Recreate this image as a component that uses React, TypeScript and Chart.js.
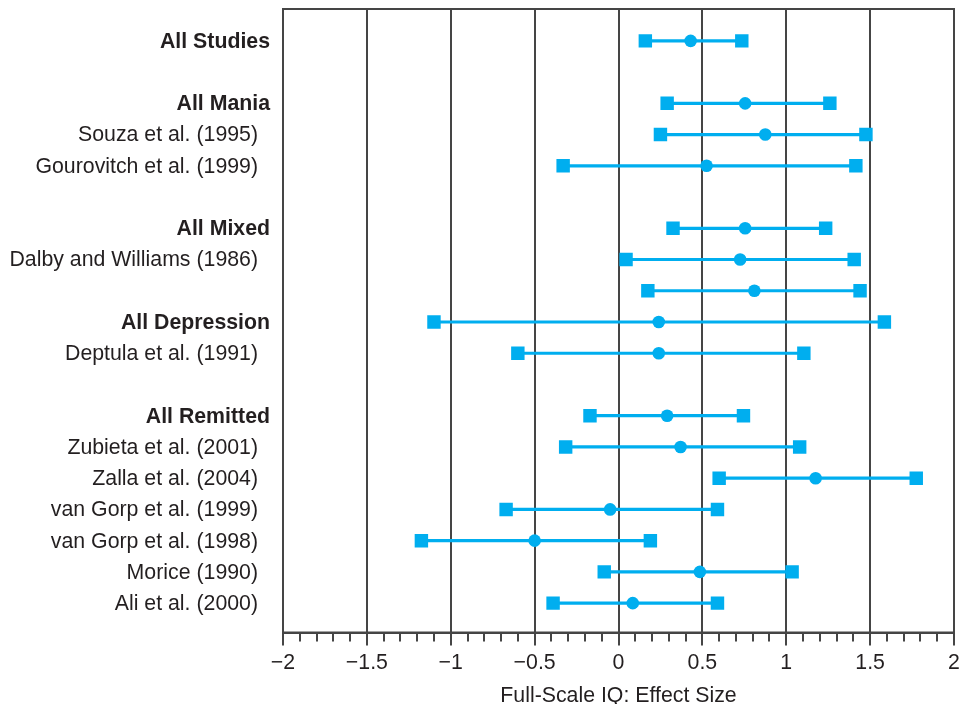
import React, { useEffect, useRef } from "react";
import { Chart, registerables } from "chart.js";

Chart.register(...registerables);

const rowLabels: string[] = [
  "All Studies",
  "",
  "All Mania",
  "Souza et al. (1995)",
  "Gourovitch et al. (1999)",
  "",
  "All Mixed",
  "Dalby and Williams (1986)",
  "",
  "All Depression",
  "Deptula et al. (1991)",
  "",
  "All Remitted",
  "Zubieta et al. (2001)",
  "Zalla et al. (2004)",
  "van Gorp et al. (1999)",
  "van Gorp et al. (1998)",
  "Morice (1990)",
  "Ali et al. (2000)",
];

const boldRows: boolean[] = [
  true, false, true, false, false, false, true, false, false, true,
  false, false, true, false, false, false, false, false, false,
];

const lowValues: (number | null)[] = [
  0.16, null, 0.29, 0.25, -0.33, null, 0.325, 0.045, 0.175, -1.1,
  -0.6, null, -0.17, -0.315, 0.6, -0.67, -1.175, -0.085, -0.39,
];

const effectValues: (number | null)[] = [
  0.43, null, 0.755, 0.875, 0.525, null, 0.755, 0.725, 0.81, 0.24,
  0.24, null, 0.29, 0.37, 1.175, -0.05, -0.5, 0.485, 0.085,
];

const highValues: (number | null)[] = [
  0.735, null, 1.26, 1.475, 1.415, null, 1.235, 1.405, 1.44, 1.585,
  1.105, null, 0.745, 1.08, 1.775, 0.59, 0.19, 1.035, 0.59,
];

const xTickValues: number[] = [-2, -1.5, -1, -0.5, 0, 0.5, 1, 1.5, 2];

const COLOR = "#00aeef";
const INK = "#231f20";
const LINE = "#454545";
const FONT = '"Liberation Sans", Arial, Helvetica, sans-serif';
const FSIZE = 21.3;

const fmt = (v: number) => {
  const s = String(Math.abs(v));
  return v < 0 ? "\u2212" + s : s;
};

const extrasPlugin = {
  id: "extras",
  afterDraw(chart: any) {
    const { ctx, chartArea, scales } = chart;
    const x = scales.x;
    const y = scales.y;
    ctx.save();
    ctx.strokeStyle = LINE;
    ctx.lineWidth = 2;
    for (let k = -20; k <= 20; k++) {
      if (k % 5 === 0) continue;
      const px = Math.round(x.getPixelForValue(k / 10));
      ctx.beginPath();
      ctx.moveTo(px, chartArea.bottom);
      ctx.lineTo(px, chartArea.bottom + 9);
      ctx.stroke();
    }
    ctx.strokeRect(
      chartArea.left,
      chartArea.top,
      chartArea.right - chartArea.left,
      chartArea.bottom - chartArea.top
    );
    ctx.fillStyle = INK;
    ctx.textAlign = "right";
    ctx.textBaseline = "middle";
    rowLabels.forEach((lab, i) => {
      if (!lab) return;
      const bold = boldRows[i];
      ctx.font = (bold ? "bold " : "") + FSIZE + "px " + FONT;
      ctx.fillText(lab, bold ? 270 : 258, y.getPixelForValue(i) + 1);
    });
    ctx.restore();
  },
};

export default function App() {
  const canvasRef = useRef<HTMLCanvasElement | null>(null);

  useEffect(() => {
    document.body.style.margin = "0";
    const canvas = canvasRef.current;
    if (!canvas) return;

    const datasets = rowLabels
      .map((_, i) => i)
      .filter((i) => lowValues[i] !== null)
      .map((i) => ({
        data: [
          { x: lowValues[i] as number, y: i },
          { x: effectValues[i] as number, y: i },
          { x: highValues[i] as number, y: i },
        ],
        showLine: true,
        borderColor: COLOR,
        backgroundColor: COLOR,
        borderWidth: 3.2,
        pointStyle: ["rect", "circle", "rect"],
        pointRadius: [9.5, 6.3, 9.5],
        pointBorderWidth: 0,
        pointBackgroundColor: COLOR,
      }));

    const chart = new Chart(canvas, {
      type: "scatter",
      data: { datasets: datasets as any },
      options: {
        animation: false,
        responsive: false,
        devicePixelRatio: 1,
        layout: {
          autoPadding: false,
          padding: { left: 283, right: 5, top: 9, bottom: 0 },
        },
        plugins: { legend: { display: false }, tooltip: { enabled: false } },
        scales: {
          x: {
            type: "linear",
            position: "bottom",
            min: -2,
            max: 2,
            afterBuildTicks: (s: any) => {
              s.ticks = xTickValues.map((v) => ({ value: v }));
            },
            afterFit: (s: any) => {
              s.height = 71.5;
              s.paddingLeft = 0;
              s.paddingRight = 0;
            },
            ticks: {
              callback: (v: any) => fmt(Number(v)),
              font: { family: FONT, size: FSIZE },
              color: INK,
              padding: 5,
              maxRotation: 0,
              autoSkip: false,
            },
            grid: {
              color: LINE,
              lineWidth: 2,
              tickLength: 13,
              tickColor: LINE,
              drawOnChartArea: true,
            },
            border: { display: true, color: LINE, width: 2 },
            title: {
              display: true,
              text: "Full-Scale IQ: Effect Size",
              font: { family: FONT, size: FSIZE, lineHeight: 1 },
              color: INK,
              padding: { top: 0, bottom: -3 },
            },
          },
          y: {
            type: "linear",
            display: false,
            reverse: true,
            min: -1.02,
            max: 18.94,
          },
        },
      },
      plugins: [extrasPlugin],
    });

    return () => chart.destroy();
  }, []);

  return (
    <div style={{ position: "relative", width: "959px", height: "704px" }}>
      <canvas ref={canvasRef} width={959} height={704} />
    </div>
  );
}
